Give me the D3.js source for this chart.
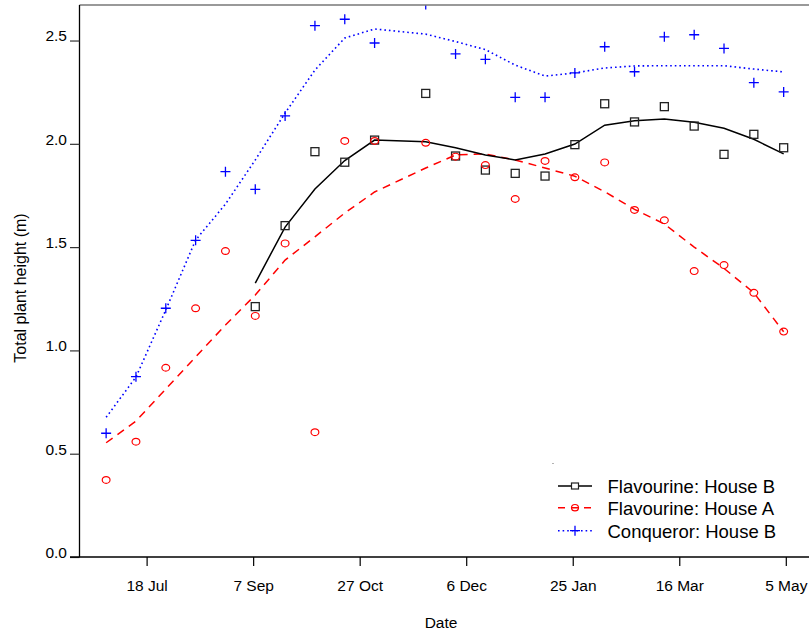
<!DOCTYPE html>
<meta charset="utf-8">
<html>
<head>
<script src="https://d3js.org/d3.v7.min.js"></script>
<style>
  body { margin: 0; background: #fff; }
  text { font-family: "Liberation Sans", Arial, sans-serif; fill: #000; }
</style>
</head>
<body>
<div id="chart"></div>
<script>

// sampling days (days after 18 Jul)
var sampleDays = [-19, -5, 9, 23, 37, 51, 65, 79, 93, 107, 131, 145, 159, 173, 187, 201, 215, 229, 243, 257, 271, 285, 299];
var flavBDays = [51, 65, 79, 93, 107, 131, 145, 159, 173, 187, 201, 215, 229, 243, 257, 271, 285, 299];

// Flavourine: House B
var flavBObs = [1.212, 1.604, 1.962, 1.911, 2.018, 2.244, 1.941, 1.873, 1.857, 1.844, 1.996, 2.194, 2.106, 2.180, 2.086, 1.949, 2.046, 1.981];
var flavBFit = [1.326, 1.597, 1.781, 1.919, 2.018, 2.010, 1.981, 1.946, 1.922, 1.951, 1.999, 2.090, 2.112, 2.120, 2.104, 2.075, 2.022, 1.951];

// Flavourine: House A
var flavAObs = [0.373, 0.558, 0.916, 1.204, 1.481, 1.167, 1.518, 0.604, 2.014, 2.014, 2.005, 1.938, 1.897, 1.733, 1.917, 1.838, 1.910, 1.680, 1.630, 1.384, 1.413, 1.279, 1.091];
var flavAFit = [0.553, 0.658, 0.813, 0.968, 1.123, 1.268, 1.437, 1.550, 1.665, 1.767, 1.883, 1.946, 1.951, 1.922, 1.883, 1.843, 1.768, 1.683, 1.612, 1.500, 1.397, 1.279, 1.090];

// Conqueror: House B
var conqBObs = [0.599, 0.873, 1.204, 1.533, 1.865, 1.780, 2.135, 2.572, 2.603, 2.488, 2.675, 2.435, 2.409, 2.225, 2.225, 2.343, 2.470, 2.349, 2.518, 2.528, 2.462, 2.296, 2.251];
var conqBFit = [0.676, 0.871, 1.196, 1.534, 1.708, 1.922, 2.149, 2.357, 2.512, 2.556, 2.531, 2.495, 2.456, 2.381, 2.328, 2.343, 2.367, 2.377, 2.378, 2.378, 2.378, 2.362, 2.348];

var xTickDays = [0, 50, 100, 150, 200, 250, 300];
var xTickLabels = ["18 Jul", "7 Sep", "27 Oct", "6 Dec", "25 Jan", "16 Mar", "5 May"];
var yTicks = [0.0, 0.5, 1.0, 1.5, 2.0, 2.5];
var legendLabels = ["Flavourine: House B", "Flavourine: House A", "Conqueror: House B"];

var W = 809, H = 634;
var pLeft = 79.5, pTop = 5, pBottom = 557, pRight = 813.5;

var svg = d3.select("#chart").append("svg")
  .attr("width", W)
  .attr("height", H);

var x = d3.scaleLinear().domain([-31.5, 313]).range([pLeft, pRight]);
var y = d3.scaleLinear().domain([0, 2.672]).range([pBottom, pTop]);

svg.append("clipPath").attr("id", "plotclip")
  .append("rect")
  .attr("x", pLeft).attr("y", pTop)
  .attr("width", pRight - pLeft).attr("height", pBottom - pTop);

var plot = svg.append("g").attr("clip-path", "url(#plotclip)");

// top border
svg.append("line")
  .attr("x1", pLeft).attr("x2", pRight)
  .attr("y1", pTop).attr("y2", pTop)
  .attr("stroke", "#777").attr("stroke-width", 1.5);

// axes
var yAxis = svg.append("g")
  .attr("transform", "translate(" + pLeft + ",0)")
  .call(d3.axisLeft(y).tickValues(yTicks).tickFormat(d3.format(".1f")).tickSize(9.5).tickSizeOuter(0).tickPadding(3));
yAxis.select(".domain").attr("stroke", "#000").attr("stroke-width", 1.3)
  .attr("d", "M0," + pTop + "V" + pBottom);
yAxis.selectAll(".tick line").attr("stroke", "#333").attr("stroke-width", 1.2);
yAxis.selectAll(".tick text").attr("dy", "0.02em").style("font-size", "15.5px")
  .style("font-family", "'Liberation Sans', Arial, sans-serif");

var xAxis = svg.append("g")
  .attr("transform", "translate(0," + pBottom + ")")
  .call(d3.axisBottom(x).tickValues(xTickDays).tickFormat(function(d, i) { return xTickLabels[i]; })
    .tickSize(9).tickSizeOuter(0).tickPadding(13.5));
xAxis.select(".domain").attr("stroke", "#000").attr("stroke-width", 1.3)
  .attr("d", "M" + (pLeft - 9.5) + ",0H" + pRight);
xAxis.selectAll(".tick line").attr("stroke", "#000").attr("stroke-width", 1.2);
xAxis.selectAll(".tick text").style("font-size", "15.5px")
  .style("font-family", "'Liberation Sans', Arial, sans-serif");

// axis titles
svg.append("text")
  .attr("x", 441).attr("y", 627.5)
  .attr("text-anchor", "middle")
  .style("font-size", "15.5px")
  .text("Date");

svg.append("text")
  .attr("transform", "translate(26,288) rotate(-90)")
  .attr("text-anchor", "middle")
  .style("font-size", "16px")
  .text("Total plant height (m)");

// fitted lines
var line = d3.line().x(function(d) { return x(d[0]); }).y(function(d) { return y(d[1]); });

plot.append("path")
  .datum(d3.zip(sampleDays, conqBFit))
  .attr("d", line).attr("fill", "none")
  .attr("stroke", "#0000ff").attr("stroke-width", 1.6)
  .attr("stroke-dasharray", "1.6,3");

plot.append("path")
  .datum(d3.zip(sampleDays, flavAFit))
  .attr("d", line).attr("fill", "none")
  .attr("stroke", "#ff0000").attr("stroke-width", 1.5)
  .attr("stroke-dasharray", "8,6");

plot.append("path")
  .datum(d3.zip(flavBDays, flavBFit))
  .attr("d", line).attr("fill", "none")
  .attr("stroke", "#000").attr("stroke-width", 1.5);

// observed points
plot.selectAll("rect.sq")
  .data(d3.zip(flavBDays, flavBObs))
  .enter().append("rect")
  .attr("class", "sq")
  .attr("x", function(d) { return x(d[0]) - 4; })
  .attr("y", function(d) { return y(d[1]) - 4; })
  .attr("width", 8).attr("height", 8)
  .attr("fill", "none").attr("stroke", "#222").attr("stroke-width", 1.3);

plot.selectAll("ellipse.ci")
  .data(d3.zip(sampleDays, flavAObs))
  .enter().append("ellipse")
  .attr("class", "ci")
  .attr("cx", function(d) { return x(d[0]); })
  .attr("cy", function(d) { return y(d[1]); })
  .attr("rx", 3.9).attr("ry", 3.4)
  .attr("fill", "none").attr("stroke", "#ff0000").attr("stroke-width", 1.2);

plot.selectAll("path.cr")
  .data(d3.zip(sampleDays, conqBObs))
  .enter().append("path")
  .attr("class", "cr")
  .attr("d", function(d) {
    var cx = x(d[0]), cy = y(d[1]);
    return "M" + (cx - 5) + "," + cy + "H" + (cx + 5) + "M" + cx + "," + (cy - 5) + "V" + (cy + 5);
  })
  .attr("stroke", "#0000ff").attr("stroke-width", 1.3);

// legend
var legY = [486, 507.7, 530.7];
var leg = svg.append("g");

leg.append("circle").attr("cx", 553).attr("cy", 463.5).attr("r", 0.6).attr("fill", "#555");

leg.append("line").attr("x1", 558).attr("x2", 592).attr("y1", legY[0]).attr("y2", legY[0])
  .attr("stroke", "#000").attr("stroke-width", 1.5);
leg.append("rect").attr("x", 571.5).attr("y", legY[0] - 3).attr("width", 7).attr("height", 6)
  .attr("fill", "#fff").attr("stroke", "#222").attr("stroke-width", 1.2);

leg.append("line").attr("x1", 558).attr("x2", 592).attr("y1", legY[1]).attr("y2", legY[1])
  .attr("stroke", "#ff0000").attr("stroke-width", 1.5).attr("stroke-dasharray", "7,6");
leg.append("ellipse").attr("cx", 575).attr("cy", legY[1]).attr("rx", 3.5).attr("ry", 3.2)
  .attr("fill", "none").attr("stroke", "#ff0000").attr("stroke-width", 1.2);

leg.append("line").attr("x1", 558).attr("x2", 592).attr("y1", legY[2]).attr("y2", legY[2])
  .attr("stroke", "#0000ff").attr("stroke-width", 1.5).attr("stroke-dasharray", "1.6,3");
leg.append("path")
  .attr("d", "M570," + legY[2] + "H580M575," + (legY[2] - 5) + "V" + (legY[2] + 5))
  .attr("stroke", "#0000ff").attr("stroke-width", 1.3);

leg.selectAll("text.lg")
  .data(legendLabels)
  .enter().append("text")
  .attr("class", "lg")
  .attr("x", 607.5)
  .attr("y", function(d, i) { return legY[i] + 6.8; })
  .style("font-size", "18.5px")
  .text(function(d) { return d; });

</script>
</body>
</html>
